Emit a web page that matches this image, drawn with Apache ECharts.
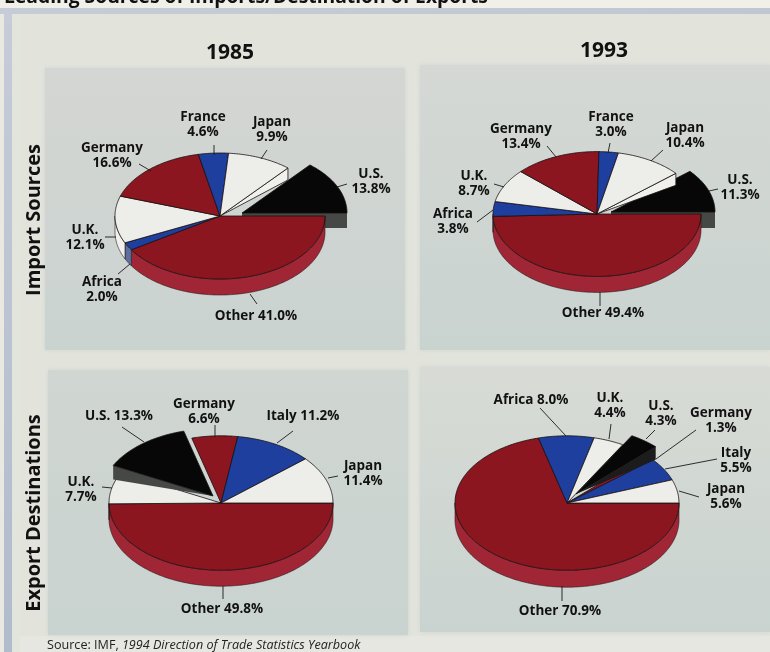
<!DOCTYPE html>
<html><head><meta charset="utf-8">
<style>html,body{margin:0;padding:0;background:#e2e4dc}#c{width:770px;height:652px}</style>
<script src="https://cdn.jsdelivr.net/npm/echarts@6/dist/echarts.min.js"></script>
</head><body><div id="c"></div>
<script>
// ---- data ----
const imports1985Names = ['Other','Africa','U.K.','Germany','France','Japan','U.S.'];
const imports1985Values = [41.0,2.0,12.1,16.6,4.6,9.9,13.8];
const imports1993Names = ['Other','Africa','U.K.','Germany','France','Japan','U.S.'];
const imports1993Values = [49.4,3.8,8.7,13.4,3.0,10.4,11.3];
const exports1985Names = ['Other','U.K.','U.S.','Germany','Italy','Japan'];
const exports1985Values = [49.8,7.7,13.3,6.6,11.2,11.4];
const exports1993Names = ['Other','Africa','U.K.','U.S.','Germany','Italy','Japan'];
const exports1993Values = [70.9,8.0,4.4,4.3,1.3,5.5,5.6];
const columnTitles = ['1985','1993'];
const rowTitles = ['Import Sources','Export Destinations'];

// ---- styling and layout ----
const FONT = '"Open Sans","Noto Sans",sans-serif';
const TOP = {Other:'#8c1620',Germany:'#8c1620',France:'#1e3f9e',Africa:'#1e3f9e',Italy:'#1e3f9e',Japan:'#ededea','U.K.':'#ededea','U.S.':'#070707'};
const SIDE = {Other:'#a02636',Germany:'#a02636',France:'#5d6f9c',Africa:'#5d6f9c',Italy:'#5d6f9c',Japan:'#f0f0ec','U.K.':'#f0f0ec','U.S.':'#454845'};
const SQUASH = 0.6;
const panels = [
 {names:imports1985Names,values:imports1985Values,center:[220,216],rx:105,depth:16,explode:[22,-3],explodeFirst:true,cut:'Japan',face:'end',faceDepth:15,faceColor:'#454845'},
 {names:imports1993Names,values:imports1993Values,center:[597,214],rx:104,depth:16,explode:[14,-2],explodeFirst:true,cut:'Japan',face:'end',faceDepth:16,faceColor:'#454845'},
 {names:exports1985Names,values:exports1985Values,center:[221,503],rx:112,depth:16,explode:[-8,-7],explodeFirst:false,face:'start',faceDepth:14,faceColor:'#454845'},
 {names:exports1993Names,values:exports1993Values,center:[567,503],rx:112,depth:17,explode:[9,-9],explodeFirst:false,face:'end',faceDepth:13,faceColor:'#1c1c1c'}
];
// slice labels: text lines, anchor centre, leader end points
const labels = [
 {t:'France\n4.6%',x:203,y:125,l:[214,145,214,155]},
 {t:'Japan\n9.9%',x:272,y:130,l:[267,150,261,159]},
 {t:'Germany\n16.6%',x:112,y:156,l:[139,164,151,171]},
 {t:'U.S.\n13.8%',x:371,y:182,l:[347,184,337,187]},
 {t:'U.K.\n12.1%',x:85,y:238,l:[105,237,116,237]},
 {t:'Africa\n2.0%',x:102,y:290,l:[118,274,130,264]},
 {t:'Other 41.0%',x:256,y:316,l:[257,304,250,294]},
 {t:'France\n3.0%',x:611,y:125,l:[610,143,608,153]},
 {t:'Japan\n10.4%',x:685,y:136,l:[663,150,651,161]},
 {t:'Germany\n13.4%',x:521,y:137,l:[547,146,556,157]},
 {t:'U.K.\n8.7%',x:474,y:184,l:[494,184,504,187]},
 {t:'U.S.\n11.3%',x:740,y:188,l:[718,189,709,191]},
 {t:'Africa\n3.8%',x:453,y:222,l:[477,222,493,210]},
 {t:'Other 49.4%',x:603,y:313,l:[600,306,600,292]},
 {t:'Germany\n6.6%',x:204,y:412,l:[215,425,215,437]},
 {t:'U.S. 13.3%',x:119,y:416,l:[122,427,144,442]},
 {t:'Italy 11.2%',x:303,y:416,l:[293,431,277,443]},
 {t:'Japan\n11.4%',x:363,y:474,l:[338,476,328,478]},
 {t:'U.K.\n7.7%',x:81,y:490,l:[102,487,112,488]},
 {t:'Other 49.8%',x:222,y:609,l:[223,586,223,599]},
 {t:'Africa 8.0%',x:531,y:400,l:[540,408,566,436]},
 {t:'U.K.\n4.4%',x:610,y:406,l:[611,424,609,439]},
 {t:'U.S.\n4.3%',x:661,y:414,l:[655,430,646,439]},
 {t:'Germany\n1.3%',x:721,y:421,l:[696,430,656,459]},
 {t:'Italy\n5.5%',x:736,y:461,l:[717,459,665,469]},
 {t:'Japan\n5.6%',x:726,y:497,l:[699,497,679,491]},
 {t:'Other 70.9%',x:560,y:611,l:[562,586,562,601]}
];
const lg = (a,b,h) => new echarts.graphic.LinearGradient(0,0,h?1:0,h?0:1,[{offset:0,color:a},{offset:1,color:b}]);

function renderSlice(panel){
 return function(params, api){
  const item = panel.data[params.dataIndex];
  const start = api.value(0), end = api.value(1), name = item.name;
  const [cx, cy] = panel.center;
  const off = name === 'U.S.' ? panel.explode : [0,0];
  const pt = (r,p) => { const c = api.coord([r,p]); return [c[0]+off[0], cy+(c[1]-cy)*SQUASH+off[1]]; };
  const arc = (a,b) => { const out=[]; const n=Math.max(2,Math.ceil((b-a)/0.25)); for(let i=0;i<=n;i++) out.push(pt(1,a+(b-a)*i/n)); return out; };
  const down = (p,d) => [p[0],p[1]+(d===undefined?panel.depth:d)];
  const apex = pt(0,start);
  const children = [];
  const stroke = {stroke:'#161010',lineWidth:0.8,lineJoin:'round'};
  // visible outer wall: only the front half of the ellipse (0 to 50 percent)
  const wa = Math.max(start,0), wb = Math.min(end,50);
  if (wb > wa) {
    const top = arc(wa,wb);
    children.push({type:'polygon',shape:{points:top.concat(top.slice().reverse().map(p=>down(p)))},style:{fill:SIDE[name],stroke:'#2a1a1a',lineWidth:0.6}});
  }
  if (name === 'U.S.') {
    // the exposed radial face of the pulled out slice
    const o = pt(1, panel.face==='start' ? start : end);
    const pts = panel.explodeFirst ? [apex,o,down(o,panel.faceDepth),down(apex,panel.faceDepth)] : [apex,o,down(o,panel.faceDepth)];
    children.push({type:'polygon',shape:{points:pts},style:{fill:panel.faceColor}});
  }
  if (name === panel.cut) {
    // face left open by the pulled out slice, tapering to the centre
    const o = pt(1,end);
    children.push({type:'polygon',shape:{points:[apex,o,down(o,12)]},style:Object.assign({fill:SIDE[name]},stroke)});
  }
  children.push({type:'polygon',shape:{points:[apex].concat(arc(start,end))},style:Object.assign({fill:TOP[name]},stroke)});
  return {type:'group',children};
 };
}

const polar=[],angleAxis=[],radiusAxis=[],series=[];
panels.forEach((panel,i)=>{
 polar.push({center:panel.center,radius:[0,panel.rx]});
 angleAxis.push({polarIndex:i,type:'value',min:0,max:100,startAngle:0,clockwise:true,show:false});
 radiusAxis.push({polarIndex:i,type:'value',min:0,max:1,show:false});
 let sum=0;
 const rows = panel.names.map((name,k)=>{const r={name,value:[sum,sum+panel.values[k]]};sum+=panel.values[k];return r;});
 const us = rows.filter(r=>r.name==='U.S.');
 const rest = rows.filter(r=>r.name!=='U.S.');
 panel.data = panel.explodeFirst ? us.concat(rest) : rest.concat(us);
 series.push({type:'custom',coordinateSystem:'polar',polarIndex:i,silent:true,animation:false,z:3,data:panel.data,renderItem:renderSlice(panel)});
});

const text=(t,x,y,size,weight,extra)=>({type:'text',x,y,z:20,silent:true,style:Object.assign({text:t,fill:'#111',font:`${weight} ${size}px ${FONT}`,align:'center',verticalAlign:'middle'},extra||{})});
const rect=(x,y,w,h,fill,blur)=>({type:'rect',z:1,silent:true,shape:{x,y,width:w,height:h},style:Object.assign({fill},blur?{shadowBlur:blur,shadowColor:'rgba(205,212,208,0.9)'}:{})});
const graphics=[
 rect(0,0,770,652,'#e2e4dc'),
 rect(0,636,770,16,'#e6e7e1'),
 rect(0,0,770,9,'#f1f0e8'),
 rect(0,8,770,6,lg('#c6ccd5','#bfc8d2',true)),
 rect(4,8,8,644,lg('#c6ccd8','#b0bbcc')),
 rect(0,14,4,638,'#e9e9e2'),
 rect(12,14,8,638,'#e2e5dc'),
 rect(45,68,360,282,lg('#d4d6d3','#cad3d0'),5),
 rect(420,65,350,285,lg('#d5d8d4','#c9d3d0'),5),
 rect(48,370,360,265,lg('#d0d6d2','#c9d3d0'),5),
 rect(420,367,350,265,lg('#d8dbd5','#c9d3d0'),5),
 text('Leading Sources of Imports/Destination of Exports',4,-2,19.3,700,{align:'left'}),
 text(columnTitles[0],230,53,21,700),
 text(columnTitles[1],604,51,21,700),
 {type:'text',x:34,y:220,rotation:Math.PI/2,z:20,silent:true,style:{text:rowTitles[0],fill:'#111',font:`700 20px ${FONT}`,align:'center',verticalAlign:'middle'}},
 {type:'text',x:34,y:513,rotation:Math.PI/2,z:20,silent:true,style:{text:rowTitles[1],fill:'#111',font:`700 20px ${FONT}`,align:'center',verticalAlign:'middle'}},
 {type:'text',x:47,y:645,z:20,silent:true,style:{rich:{a:{font:`400 12.6px ${FONT}`,fill:'#222'},b:{font:`italic 400 12.6px ${FONT}`,fill:'#222'}},text:'{a|Source: IMF, }{b|1994 Direction of Trade Statistics Yearbook}',verticalAlign:'middle',align:'left'}}
];
labels.forEach(d=>{
 graphics.push({type:'line',z:19,silent:true,shape:{x1:d.l[0],y1:d.l[1],x2:d.l[2],y2:d.l[3]},style:{stroke:'#1a1a1a',lineWidth:0.9}});
 graphics.push(text(d.t,d.x,d.y,13.5,700,{lineHeight:15}));
});

const chart=echarts.init(document.getElementById('c'),null,{renderer:'canvas'});
chart.setOption({animation:false,backgroundColor:'#e2e4dc',polar,angleAxis,radiusAxis,series,graphic:graphics});
</script></body></html>
